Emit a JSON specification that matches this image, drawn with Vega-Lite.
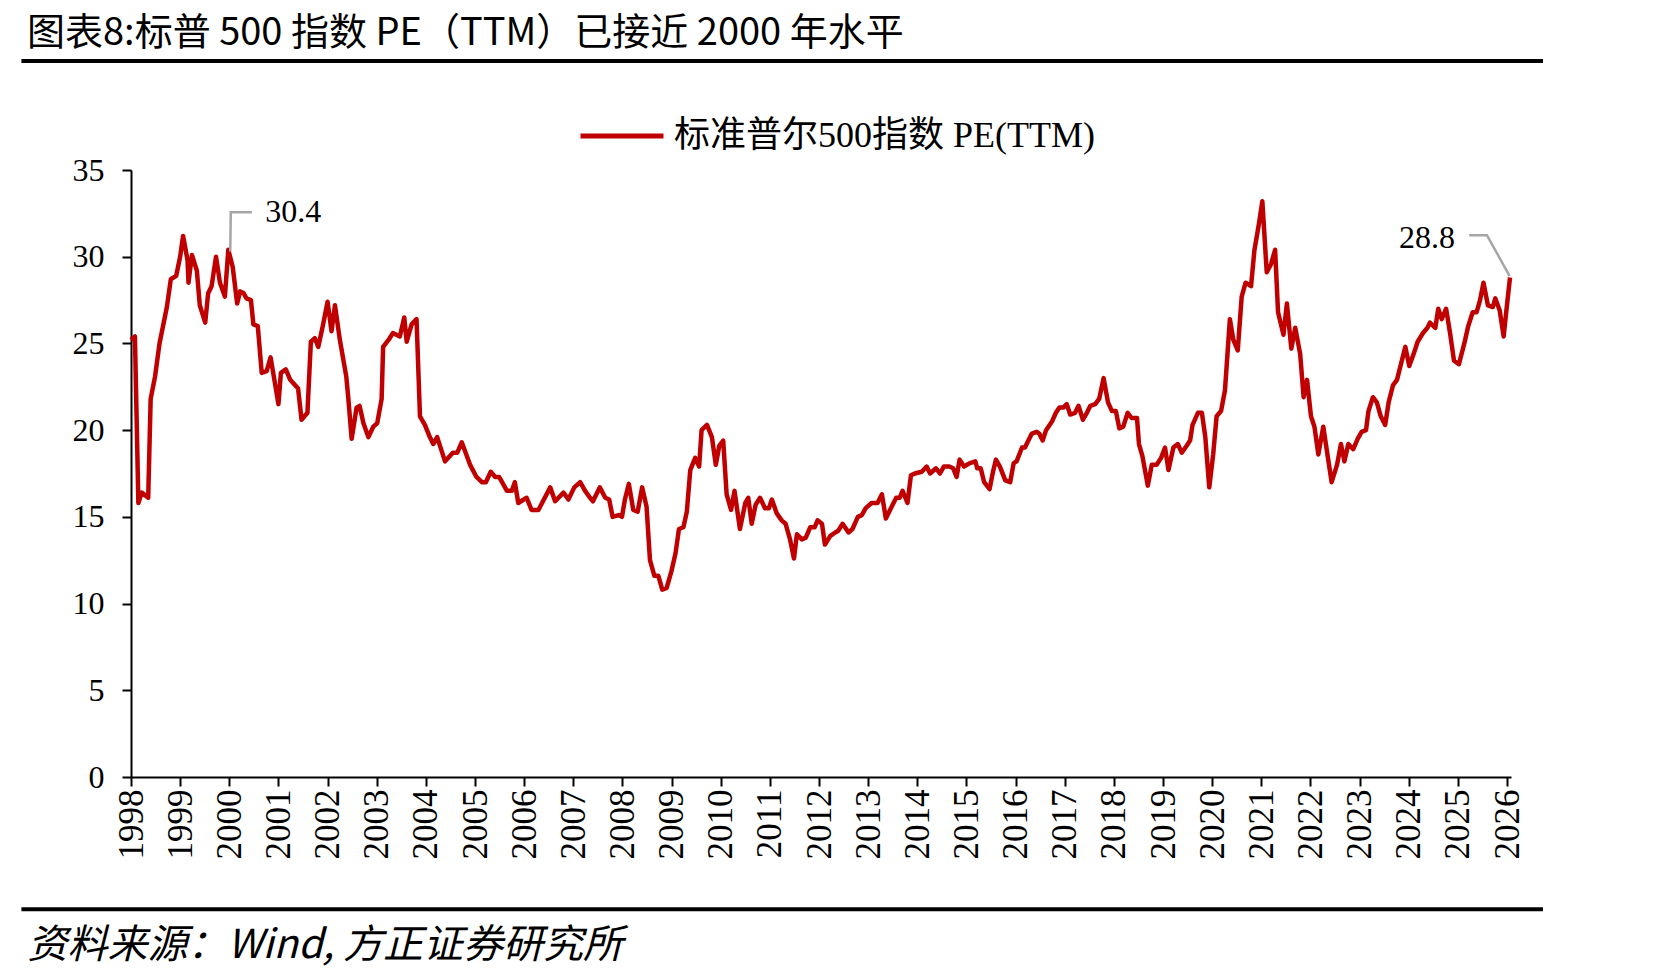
{
"$schema":"https://vega.github.io/schema/vega-lite/v6.json",
"width":1380,"height":607,
"autosize":{"type":"none"},
"padding":{"left":131,"top":170,"right":160,"bottom":203},
"background":"white",
"title":{"text":"图表8:标普 500 指数 PE（TTM）已接近 2000 年水平","anchor":"start","frame":"group","font":"Noto Sans CJK SC","fontSize":38,"fontWeight":"normal","color":"#000","dx":-104,"offset":6},
"config":{"view":{"stroke":null},"axis":{"domainColor":"#000","domainWidth":2,"tickColor":"#000","tickWidth":2,"tickSize":9,"grid":false,"labelColor":"#000","labelFont":"Liberation Serif"}},
"datasets":{
"pe":[
{"t":1998.00,"pe":25.2},{"t":1998.08,"pe":25.4},{"t":1998.15,"pe":15.8},{"t":1998.22,"pe":16.4},{"t":1998.35,"pe":16.1},{"t":1998.40,"pe":21.8},{"t":1998.49,"pe":23.1},{"t":1998.58,"pe":25.0},{"t":1998.73,"pe":27.1},{"t":1998.81,"pe":28.7},{"t":1998.92,"pe":28.9},
{"t":1999.00,"pe":30.0},{"t":1999.06,"pe":31.2},{"t":1999.15,"pe":29.8},{"t":1999.17,"pe":28.5},{"t":1999.24,"pe":30.1},{"t":1999.34,"pe":29.2},{"t":1999.40,"pe":27.2},{"t":1999.51,"pe":26.2},{"t":1999.57,"pe":27.9},{"t":1999.64,"pe":28.3},{"t":1999.73,"pe":30.0},{"t":1999.81,"pe":28.5},{"t":1999.91,"pe":27.7},{"t":1999.98,"pe":30.4},
{"t":2000.07,"pe":29.4},{"t":2000.16,"pe":27.3},{"t":2000.22,"pe":28.0},{"t":2000.29,"pe":27.9},{"t":2000.35,"pe":27.6},{"t":2000.44,"pe":27.5},{"t":2000.49,"pe":26.1},{"t":2000.58,"pe":26.0},{"t":2000.66,"pe":23.3},{"t":2000.76,"pe":23.4},{"t":2000.84,"pe":24.2},{"t":2000.93,"pe":22.7},
{"t":2001.00,"pe":21.5},{"t":2001.05,"pe":23.3},{"t":2001.15,"pe":23.5},{"t":2001.24,"pe":22.9},{"t":2001.40,"pe":22.4},{"t":2001.47,"pe":20.6},{"t":2001.59,"pe":21.0},{"t":2001.66,"pe":25.1},{"t":2001.74,"pe":25.3},{"t":2001.81,"pe":24.8},{"t":2001.91,"pe":26.1},
{"t":2002.00,"pe":27.4},{"t":2002.08,"pe":25.7},{"t":2002.15,"pe":27.2},{"t":2002.25,"pe":25.2},{"t":2002.38,"pe":23.1},{"t":2002.42,"pe":21.9},{"t":2002.49,"pe":19.5},{"t":2002.59,"pe":21.3},{"t":2002.65,"pe":21.4},{"t":2002.73,"pe":20.4},{"t":2002.83,"pe":19.6},{"t":2002.93,"pe":20.2},
{"t":2003.01,"pe":20.4},{"t":2003.10,"pe":21.8},{"t":2003.13,"pe":24.8},{"t":2003.24,"pe":25.2},{"t":2003.33,"pe":25.6},{"t":2003.47,"pe":25.4},{"t":2003.56,"pe":26.5},{"t":2003.61,"pe":25.1},{"t":2003.71,"pe":26.1},{"t":2003.81,"pe":26.4},{"t":2003.88,"pe":20.8},{"t":2003.98,"pe":20.3},
{"t":2004.08,"pe":19.6},{"t":2004.15,"pe":19.2},{"t":2004.23,"pe":19.6},{"t":2004.39,"pe":18.2},{"t":2004.55,"pe":18.7},{"t":2004.64,"pe":18.7},{"t":2004.73,"pe":19.3},{"t":2004.90,"pe":18.0},
{"t":2005.03,"pe":17.3},{"t":2005.14,"pe":17.0},{"t":2005.22,"pe":17.0},{"t":2005.32,"pe":17.6},{"t":2005.41,"pe":17.3},{"t":2005.49,"pe":17.3},{"t":2005.65,"pe":16.5},{"t":2005.75,"pe":16.5},{"t":2005.81,"pe":17.0},{"t":2005.88,"pe":15.8},
{"t":2006.05,"pe":16.1},{"t":2006.15,"pe":15.4},{"t":2006.29,"pe":15.4},{"t":2006.53,"pe":16.7},{"t":2006.63,"pe":15.9},{"t":2006.80,"pe":16.4},{"t":2006.90,"pe":16.0},
{"t":2007.02,"pe":16.7},{"t":2007.14,"pe":17.0},{"t":2007.24,"pe":16.5},{"t":2007.34,"pe":16.1},{"t":2007.40,"pe":15.9},{"t":2007.54,"pe":16.7},{"t":2007.65,"pe":16.1},{"t":2007.73,"pe":16.0},{"t":2007.80,"pe":15.0},{"t":2007.92,"pe":15.1},{"t":2007.99,"pe":15.0},
{"t":2008.05,"pe":16.0},{"t":2008.13,"pe":16.9},{"t":2008.22,"pe":15.4},{"t":2008.31,"pe":15.3},{"t":2008.40,"pe":16.7},{"t":2008.49,"pe":15.6},{"t":2008.56,"pe":12.5},{"t":2008.65,"pe":11.6},{"t":2008.73,"pe":11.6},{"t":2008.81,"pe":10.8},{"t":2008.90,"pe":10.9},
{"t":2009.00,"pe":11.9},{"t":2009.08,"pe":12.9},{"t":2009.15,"pe":14.3},{"t":2009.24,"pe":14.4},{"t":2009.31,"pe":15.3},{"t":2009.38,"pe":17.7},{"t":2009.48,"pe":18.4},{"t":2009.56,"pe":17.9},{"t":2009.61,"pe":20.0},{"t":2009.72,"pe":20.3},{"t":2009.82,"pe":19.6},{"t":2009.90,"pe":18.0},{"t":2009.97,"pe":19.1},
{"t":2010.05,"pe":19.4},{"t":2010.12,"pe":16.3},{"t":2010.21,"pe":15.4},{"t":2010.28,"pe":16.5},{"t":2010.39,"pe":14.3},{"t":2010.50,"pe":15.8},{"t":2010.56,"pe":16.1},{"t":2010.63,"pe":14.6},{"t":2010.71,"pe":15.7},{"t":2010.80,"pe":16.1},{"t":2010.90,"pe":15.5},{"t":2010.98,"pe":15.5},
{"t":2011.04,"pe":16.0},{"t":2011.14,"pe":15.2},{"t":2011.24,"pe":14.8},{"t":2011.32,"pe":14.6},{"t":2011.41,"pe":13.7},{"t":2011.49,"pe":12.6},{"t":2011.55,"pe":14.0},{"t":2011.65,"pe":13.7},{"t":2011.73,"pe":13.8},{"t":2011.82,"pe":14.4},{"t":2011.91,"pe":14.4},{"t":2011.97,"pe":14.8},
{"t":2012.06,"pe":14.6},{"t":2012.12,"pe":13.4},{"t":2012.23,"pe":13.9},{"t":2012.33,"pe":14.1},{"t":2012.39,"pe":14.2},{"t":2012.48,"pe":14.6},{"t":2012.60,"pe":14.1},{"t":2012.68,"pe":14.3},{"t":2012.79,"pe":15.0},{"t":2012.87,"pe":15.1},{"t":2012.95,"pe":15.5},
{"t":2013.07,"pe":15.8},{"t":2013.19,"pe":15.8},{"t":2013.28,"pe":16.3},{"t":2013.36,"pe":14.9},{"t":2013.48,"pe":15.6},{"t":2013.57,"pe":16.1},{"t":2013.64,"pe":16.1},{"t":2013.70,"pe":16.5},{"t":2013.80,"pe":15.8},{"t":2013.87,"pe":17.4},{"t":2013.95,"pe":17.5},
{"t":2014.09,"pe":17.6},{"t":2014.19,"pe":17.9},{"t":2014.26,"pe":17.5},{"t":2014.38,"pe":17.8},{"t":2014.46,"pe":17.5},{"t":2014.54,"pe":17.9},{"t":2014.65,"pe":17.9},{"t":2014.73,"pe":17.8},{"t":2014.80,"pe":17.3},{"t":2014.86,"pe":18.3},{"t":2014.95,"pe":17.9},
{"t":2015.07,"pe":18.1},{"t":2015.18,"pe":18.2},{"t":2015.22,"pe":17.8},{"t":2015.29,"pe":17.8},{"t":2015.36,"pe":17.0},{"t":2015.47,"pe":16.6},{"t":2015.54,"pe":17.6},{"t":2015.60,"pe":18.3},{"t":2015.68,"pe":17.9},{"t":2015.79,"pe":17.1},{"t":2015.89,"pe":17.0},{"t":2015.96,"pe":18.1},
{"t":2016.02,"pe":18.2},{"t":2016.13,"pe":19.0},{"t":2016.19,"pe":19.0},{"t":2016.33,"pe":19.8},{"t":2016.43,"pe":19.9},{"t":2016.48,"pe":19.8},{"t":2016.55,"pe":19.4},{"t":2016.62,"pe":20.0},{"t":2016.74,"pe":20.5},{"t":2016.82,"pe":21.0},{"t":2016.89,"pe":21.3},{"t":2016.97,"pe":21.3},
{"t":2017.04,"pe":21.5},{"t":2017.11,"pe":20.9},{"t":2017.21,"pe":21.0},{"t":2017.28,"pe":21.4},{"t":2017.37,"pe":20.6},{"t":2017.45,"pe":21.0},{"t":2017.52,"pe":21.4},{"t":2017.62,"pe":21.5},{"t":2017.70,"pe":21.8},{"t":2017.79,"pe":23.0},{"t":2017.88,"pe":21.6},{"t":2017.96,"pe":21.1},
{"t":2018.04,"pe":21.1},{"t":2018.11,"pe":20.1},{"t":2018.19,"pe":20.2},{"t":2018.28,"pe":21.0},{"t":2018.36,"pe":20.7},{"t":2018.47,"pe":20.7},{"t":2018.51,"pe":19.2},{"t":2018.58,"pe":18.5},{"t":2018.69,"pe":16.8},{"t":2018.77,"pe":18.0},{"t":2018.87,"pe":18.0},{"t":2018.96,"pe":18.4},
{"t":2019.04,"pe":19.0},{"t":2019.11,"pe":17.7},{"t":2019.21,"pe":19.0},{"t":2019.30,"pe":19.2},{"t":2019.38,"pe":18.7},{"t":2019.48,"pe":19.1},{"t":2019.55,"pe":19.4},{"t":2019.60,"pe":20.3},{"t":2019.71,"pe":21.0},{"t":2019.79,"pe":21.0},{"t":2019.86,"pe":19.6},{"t":2019.94,"pe":16.7},
{"t":2020.02,"pe":18.6},{"t":2020.09,"pe":20.8},{"t":2020.18,"pe":21.1},{"t":2020.26,"pe":22.3},{"t":2020.36,"pe":26.4},{"t":2020.43,"pe":25.2},{"t":2020.52,"pe":24.6},{"t":2020.60,"pe":27.7},{"t":2020.68,"pe":28.5},{"t":2020.79,"pe":28.3},{"t":2020.86,"pe":30.4},{"t":2020.94,"pe":31.7},
{"t":2021.02,"pe":33.2},{"t":2021.11,"pe":29.1},{"t":2021.20,"pe":29.6},{"t":2021.28,"pe":30.4},{"t":2021.34,"pe":26.8},{"t":2021.45,"pe":25.5},{"t":2021.52,"pe":27.3},{"t":2021.61,"pe":24.7},{"t":2021.69,"pe":25.9},{"t":2021.79,"pe":24.4},{"t":2021.86,"pe":21.9},{"t":2021.93,"pe":22.9},
{"t":2022.01,"pe":20.8},{"t":2022.08,"pe":20.2},{"t":2022.16,"pe":18.6},{"t":2022.26,"pe":20.2},{"t":2022.35,"pe":18.5},{"t":2022.43,"pe":17.0},{"t":2022.54,"pe":18.0},{"t":2022.62,"pe":19.2},{"t":2022.69,"pe":18.2},{"t":2022.77,"pe":19.2},{"t":2022.87,"pe":18.9},{"t":2022.96,"pe":19.5},
{"t":2023.04,"pe":19.9},{"t":2023.13,"pe":20.0},{"t":2023.18,"pe":21.1},{"t":2023.27,"pe":21.9},{"t":2023.35,"pe":21.6},{"t":2023.43,"pe":20.8},{"t":2023.52,"pe":20.3},{"t":2023.59,"pe":21.6},{"t":2023.68,"pe":22.6},{"t":2023.76,"pe":22.9},{"t":2023.84,"pe":23.8},{"t":2023.93,"pe":24.8},
{"t":2024.01,"pe":23.7},{"t":2024.10,"pe":24.4},{"t":2024.18,"pe":25.1},{"t":2024.29,"pe":25.6},{"t":2024.38,"pe":25.9},{"t":2024.43,"pe":26.2},{"t":2024.54,"pe":25.9},{"t":2024.60,"pe":27.0},{"t":2024.67,"pe":26.4},{"t":2024.76,"pe":27.0},{"t":2024.84,"pe":25.6},{"t":2024.92,"pe":24.0},
{"t":2025.02,"pe":23.8},{"t":2025.13,"pe":25.0},{"t":2025.21,"pe":26.0},{"t":2025.30,"pe":26.8},{"t":2025.38,"pe":26.8},{"t":2025.45,"pe":27.5},{"t":2025.52,"pe":28.5},{"t":2025.61,"pe":27.2},{"t":2025.71,"pe":27.1},{"t":2025.76,"pe":27.6},{"t":2025.85,"pe":26.9},{"t":2025.93,"pe":25.4},{"t":2025.99,"pe":27.0},{"t":2026.06,"pe":28.8}
],
"leaders":[
{"g":"a","t":2000.02,"v":30.3},{"g":"a","t":2000.03,"v":32.57},{"g":"a","t":2000.46,"v":32.57},
{"g":"b","t":2025.23,"v":31.24},{"g":"b","t":2025.59,"v":31.24},{"g":"b","t":2026.05,"v":28.9}
],
"notes":[
{"side":"left","t":2000.73,"v":32.6,"label":"30.4"},
{"side":"right","t":2024.94,"v":31.1,"label":"28.8"}
]
},
"layer":[
{"data":{"values":[{}]},
 "mark":{"type":"rule","color":"#000","strokeWidth":4},
 "encoding":{"x":{"datum":1995.77,"type":"quantitative"},"x2":{"datum":2026.73},"y":{"datum":41.29,"type":"quantitative"}}},
{"data":{"values":[{}]},
 "mark":{"type":"rule","color":"#000","strokeWidth":4},
 "encoding":{"x":{"datum":1995.77,"type":"quantitative"},"x2":{"datum":2026.73},"y":{"datum":-7.63,"type":"quantitative"}}},
{"data":{"name":"pe"},
 "mark":{"type":"line","strokeWidth":4.5,"strokeJoin":"round"},
 "encoding":{
  "x":{"field":"t","type":"quantitative","scale":{"domain":[1998,2026.08],"nice":false,"zero":false},
       "axis":{"values":[1998,1999,2000,2001,2002,2003,2004,2005,2006,2007,2008,2009,2010,2011,2012,2013,2014,2015,2016,2017,2018,2019,2020,2021,2022,2023,2024,2025,2026],
               "format":"d","labelAngle":270,"labelFontSize":35,"labelPadding":3,"labelOverlap":false,"labelFlush":false,
               "title":"资料来源：Wind, 方正证券研究所","titleX":-104,"titleY":168,"titleAlign":"left","titleBaseline":"middle","titleAngle":0,
               "titleFont":"Noto Sans CJK SC","titleFontSize":40,"titleFontStyle":"italic","titleFontWeight":"normal","titleColor":"#000"}},
  "y":{"field":"pe","type":"quantitative","scale":{"domain":[0,35],"nice":false},
       "axis":{"values":[0,5,10,15,20,25,30,35],"labelFontSize":32,"labelPadding":18,"title":null}},
  "color":{"datum":"标准普尔500指数 PE(TTM)","type":"nominal","scale":{"range":["#C00000"]},
       "legend":{"orient":"none","legendX":447,"legendY":-78,"title":null,"symbolType":"stroke","symbolSize":6889,"symbolStrokeWidth":5,
                 "labelFont":"Liberation Serif, Noto Sans CJK SC","labelFontSize":36,"labelColor":"#000","labelOffset":8,"labelLimit":0,"padding":0}}
 }},
{"data":{"name":"leaders"},
 "mark":{"type":"line","color":"#A6A6A6","strokeWidth":2.5},
 "encoding":{"x":{"field":"t","type":"quantitative"},"y":{"field":"v","type":"quantitative"},"detail":{"field":"g"}}},
{"data":{"name":"notes"},"transform":[{"filter":"datum.side === 'left'"}],
 "mark":{"type":"text","align":"left","baseline":"middle","font":"Liberation Serif","fontSize":32,"color":"#000"},
 "encoding":{"x":{"field":"t","type":"quantitative"},"y":{"field":"v","type":"quantitative"},"text":{"field":"label"}}},
{"data":{"name":"notes"},"transform":[{"filter":"datum.side === 'right'"}],
 "mark":{"type":"text","align":"right","baseline":"middle","font":"Liberation Serif","fontSize":32,"color":"#000"},
 "encoding":{"x":{"field":"t","type":"quantitative"},"y":{"field":"v","type":"quantitative"},"text":{"field":"label"}}}
]
}
